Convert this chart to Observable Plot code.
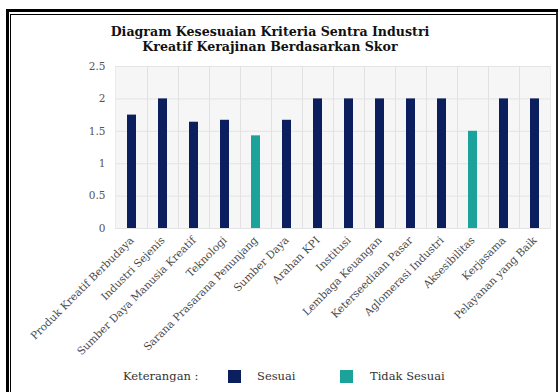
<!DOCTYPE html>
<html>
<head>
<meta charset="utf-8">
<script src="https://cdn.jsdelivr.net/npm/d3@7"></script>
<script src="https://cdn.jsdelivr.net/npm/@observablehq/plot@0.6"></script>
<style>
  html, body { margin: 0; padding: 0; background: #fff; }
  #wrap { position: relative; width: 558px; height: 392px; overflow: hidden; background: #fff; }
  #frameOuter { position: absolute; left: 6px; top: 9px; width: 600px; height: 420px; border-left: 3px solid #000; border-top: 3px solid #000; }
  #frameInner { position: absolute; left: 10px; top: 14px; width: 600px; height: 420px; border-left: 1.5px solid #000; border-top: 1.5px solid #000; }
  #rightLine { position: absolute; left: 556px; top: 12px; width: 2px; height: 400px; background: #222; }
  #title { position: absolute; left: 60px; width: 420px; top: 24px; text-align: center; font-family: "DejaVu Serif", serif; font-weight: bold; font-size: 12.6px; line-height: 15px; color: #111; }
  #chart { position: absolute; left: 0; top: 0; }
  #legend { position: absolute; top: 369px; left: 0; width: 558px; height: 18px; font-family: "DejaVu Serif", serif; font-size: 11.5px; color: #333; }
  #legend span { position: absolute; top: 0px; }
  .sw { position: absolute; top: 1px; width: 13px; height: 13px; }
</style>
</head>
<body>
<div id="wrap">
  <div id="frameOuter"></div>
  <div id="frameInner"></div>
  <div id="rightLine"></div>
  <div id="chart"></div>
  <div id="title">Diagram Kesesuaian Kriteria Sentra Industri<br>Kreatif Kerajinan Berdasarkan Skor</div>
  <div id="legend"></div>
</div>
<script>
const categories = [
  "Produk Kreatif Berbudaya",
  "Industri Sejenis",
  "Sumber Daya Manusia Kreatif",
  "Teknologi",
  "Sarana Prasarana Penunjang",
  "Sumber Daya",
  "Arahan KPI",
  "Institusi",
  "Lembaga Keuangan",
  "Keterseediaan Pasar",
  "Aglomerasi Industri",
  "Aksesibilitas",
  "Kerjasama",
  "Pelayanan yang Baik"
];
const scores = [1.75, 2, 1.64, 1.67, 1.43, 1.67, 2, 2, 2, 2, 2, 1.5, 2, 2];
const status = ["Sesuai", "Sesuai", "Sesuai", "Sesuai", "Tidak Sesuai", "Sesuai", "Sesuai", "Sesuai", "Sesuai", "Sesuai", "Sesuai", "Tidak Sesuai", "Sesuai", "Sesuai"];
const yTicks = [0, 0.5, 1, 1.5, 2, 2.5];
const yTickLabels = ["0", "0.5", "1", "1.5", "2", "2.5"];
const legendKeys = ["Sesuai", "Tidak Sesuai"];
const legendColors = ["#0b1f5e", "#1ba39b"];
const legendTitle = "Keterangan :";

const data = categories.map((c, i) => ({category: c, score: scores[i], status: status[i]}));

const W = 558, H = 360;
const mL = 115, mR = 8, mT = 66, mB = H - 228;
const step = (W - mL - mR) / (categories.length - 0.71 + 2 * 0.37);

const chart = Plot.plot({
  width: W,
  height: H,
  marginLeft: mL,
  marginRight: mR,
  marginTop: mT,
  marginBottom: mB,
  style: {fontFamily: "DejaVu Serif, serif", fontSize: "10px", color: "#444", background: "transparent"},
  x: {domain: categories, paddingInner: 0.71, paddingOuter: 0.37, label: null},
  y: {domain: [0, 2.5], label: null},
  color: {domain: legendKeys, range: legendColors},
  marks: [
    Plot.frame({fill: "#f6f6f6", stroke: "#ebebeb"}),
    Plot.ruleY(yTicks, {stroke: "#e4e4e4", strokeWidth: 1}),
    Plot.ruleX(categories.slice(0, -1), {x: d => d, dx: step / 2, stroke: "#e2e2e2", strokeWidth: 1}),
    Plot.barY(data, {x: "category", y: "score", fill: "status"}),
    Plot.axisY({ticks: yTicks, tickFormat: (d) => yTickLabels[yTicks.indexOf(d)], tickSize: 0, tickPadding: 10, fill: "#555", fontSize: 10.5}),
    Plot.axisX({tickSize: 0, tickPadding: 10, tickRotate: -45, fill: "#4a4a4a", fontSize: 10.6})
  ]
});
document.getElementById("chart").appendChild(chart);

const legend = document.getElementById("legend");
const lt = document.createElement("span");
lt.textContent = legendTitle;
lt.style.left = "123px";
legend.appendChild(lt);
const swX = [228, 340];
const txX = [257, 370];
legendKeys.forEach((k, i) => {
  const sw = document.createElement("div");
  sw.className = "sw";
  sw.style.left = swX[i] + "px";
  sw.style.background = legendColors[i];
  legend.appendChild(sw);
  const t = document.createElement("span");
  t.textContent = k;
  t.style.left = txX[i] + "px";
  legend.appendChild(t);
});
</script>
</body>
</html>
